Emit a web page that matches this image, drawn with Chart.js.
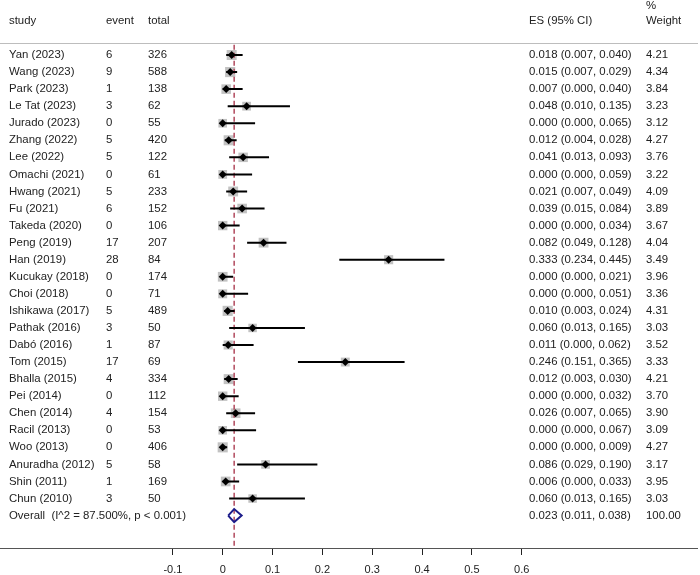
<!DOCTYPE html>
<html>
<head>
<meta charset="utf-8">
<script src="https://cdn.jsdelivr.net/npm/chart.js@4/dist/chart.umd.min.js"></script>
<style>
    html, body { margin: 0; padding: 0; background: #fff; }
    #forest { display: block; }
</style>
</head>
<body>
<canvas id="forest" width="700" height="575"></canvas>
<script>
// 研究数据
const studies = ['Yan (2023)', 'Wang (2023)', 'Park (2023)', 'Le Tat (2023)', 'Jurado (2023)', 'Zhang (2022)',
    'Lee (2022)', 'Omachi (2021)', 'Hwang (2021)', 'Fu (2021)', 'Takeda (2020)', 'Peng (2019)', 'Han (2019)',
    'Kucukay (2018)', 'Choi (2018)', 'Ishikawa (2017)', 'Pathak (2016)', 'Dabó (2016)', 'Tom (2015)',
    'Bhalla (2015)', 'Pei (2014)', 'Chen (2014)', 'Racil (2013)', 'Woo (2013)', 'Anuradha (2012)',
    'Shin (2011)', 'Chun (2010)'];
const events = [6, 9, 1, 3, 0, 5, 5, 0, 5, 6, 0, 17, 28, 0, 0, 5, 3, 1, 17, 4, 0, 4, 0, 0, 5, 1, 3];
const totals = [326, 588, 138, 62, 55, 420, 122, 61, 233, 152, 106, 207, 84, 174, 71, 489, 50, 87, 69, 334,
    112, 154, 53, 406, 58, 169, 50];
const es = [0.018, 0.015, 0.007, 0.048, 0.000, 0.012, 0.041, 0.000, 0.021, 0.039, 0.000, 0.082, 0.333, 0.000,
    0.000, 0.010, 0.060, 0.011, 0.246, 0.012, 0.000, 0.026, 0.000, 0.000, 0.086, 0.006, 0.060];
const ciLow = [0.007, 0.007, 0.000, 0.010, 0.000, 0.004, 0.013, 0.000, 0.007, 0.015, 0.000, 0.049, 0.234, 0.000,
    0.000, 0.003, 0.013, 0.000, 0.151, 0.003, 0.000, 0.007, 0.000, 0.000, 0.029, 0.000, 0.013];
const ciHigh = [0.040, 0.029, 0.040, 0.135, 0.065, 0.028, 0.093, 0.059, 0.049, 0.084, 0.034, 0.128, 0.445, 0.021,
    0.051, 0.024, 0.165, 0.062, 0.365, 0.030, 0.032, 0.065, 0.067, 0.009, 0.190, 0.033, 0.165];
const weights = [4.21, 4.34, 3.84, 3.23, 3.12, 4.27, 3.76, 3.22, 4.09, 3.89, 3.67, 4.04, 3.49, 3.96, 3.36, 4.31,
    3.03, 3.52, 3.33, 4.21, 3.70, 3.90, 3.09, 4.27, 3.17, 3.95, 3.03];

// 合并结果
const overallLabel = 'Overall  (I^2 = 87.500%, p < 0.001)';
const overallEs = 0.023;
const overallLow = 0.011;
const overallHigh = 0.038;
const overallWeight = 100.00;

// 坐标轴刻度
const xTicks = [-0.1, 0, 0.1, 0.2, 0.3, 0.4, 0.5, 0.6];
const xTickLabels = ['-0.1', '0', '0.1', '0.2', '0.3', '0.4', '0.5', '0.6'];

const overallRow = studies.length;
const fontFamily = '"Liberation Sans", Arial, sans-serif';
const textColor = '#222';

// 置信区间线段（用 NaN 断开）
function buildCiLines() {
    const pts = [];
    studies.forEach((s, i) => {
        pts.push({ x: ciLow[i], y: i });
        pts.push({ x: ciHigh[i], y: i });
        pts.push({ x: NaN, y: NaN });
    });
    return pts;
}

// 合并结果菱形
function buildOverallDiamond() {
    const h = 0.38;
    return [
        { x: overallLow, y: overallRow },
        { x: overallEs, y: overallRow - h },
        { x: overallHigh, y: overallRow },
        { x: overallEs, y: overallRow + h },
        { x: overallLow, y: overallRow }
    ];
}

// 表格文字插件
const tableTextPlugin = {
    id: 'tableText',
    afterDraw(chart) {
        const ctx = chart.ctx;
        const yScale = chart.scales.y;
        const rowY = r => yScale.getPixelForValue(r);

        ctx.save();
        ctx.font = '11.4px ' + fontFamily;
        ctx.fillStyle = textColor;
        ctx.textBaseline = 'middle';
        ctx.textAlign = 'left';

        // 表头
        ctx.fillText('study', 9, rowY(-2));
        ctx.fillText('event', 106, rowY(-2));
        ctx.fillText('total', 148, rowY(-2));
        ctx.fillText('ES (95% CI)', 529, rowY(-2));
        ctx.fillText('%', 646, rowY(-2.9));
        ctx.fillText('Weight', 646, rowY(-2));

        // 表头分隔线
        ctx.strokeStyle = '#bdbdbd';
        ctx.lineWidth = 1;
        ctx.beginPath();
        ctx.moveTo(0, Math.round(rowY(-0.7)) + 0.5);
        ctx.lineTo(698, Math.round(rowY(-0.7)) + 0.5);
        ctx.stroke();

        // 每个研究
        studies.forEach((s, i) => {
            const y = rowY(i);
            ctx.fillText(s, 9, y);
            ctx.fillText(String(events[i]), 106, y);
            ctx.fillText(String(totals[i]), 148, y);
            ctx.fillText(`${es[i].toFixed(3)} (${ciLow[i].toFixed(3)}, ${ciHigh[i].toFixed(3)})`, 529, y);
            ctx.fillText(weights[i].toFixed(2), 646, y);
        });

        // 合并行
        const yo = rowY(overallRow);
        ctx.fillText(overallLabel, 9, yo);
        ctx.fillText(`${overallEs.toFixed(3)} (${overallLow.toFixed(3)}, ${overallHigh.toFixed(3)})`, 529, yo);
        ctx.fillText(overallWeight.toFixed(2), 646, yo);

        ctx.restore();
    }
};

// 渲染森林图
function renderForestPlot() {
    const el = document.getElementById('forest');

    new Chart(el, {
        type: 'scatter',
        data: {
            datasets: [
                {
                    // 效应量点
                    data: studies.map((s, i) => ({ x: es[i], y: i })),
                    pointStyle: 'rectRot',
                    pointRadius: 4,
                    backgroundColor: '#000',
                    borderColor: '#000',
                    borderWidth: 0,
                    order: 0
                },
                {
                    // 置信区间
                    data: buildCiLines(),
                    showLine: true,
                    spanGaps: false,
                    borderColor: '#000',
                    borderWidth: 2,
                    pointRadius: 0,
                    order: 1
                },
                {
                    // 合并菱形
                    data: buildOverallDiamond(),
                    showLine: true,
                    borderColor: '#1c1c8a',
                    borderWidth: 2,
                    pointRadius: 0,
                    fill: false,
                    order: 1
                },
                {
                    // 合并效应参考线
                    data: [{ x: overallEs, y: -0.6 }, { x: overallEs, y: overallRow + 1.9 }],
                    showLine: true,
                    borderColor: '#b24a5e',
                    borderWidth: 1.5,
                    borderDash: [5, 3],
                    pointRadius: 0,
                    order: 2
                },
                {
                    // 权重方块
                    data: studies.map((s, i) => ({ x: es[i], y: i })),
                    pointStyle: 'rect',
                    pointRadius: weights.map(w => 3.45 * Math.sqrt(w)),
                    backgroundColor: '#c2c2c2',
                    borderWidth: 0,
                    order: 3
                }
            ]
        },
        options: {
            responsive: false,
            animation: false,
            devicePixelRatio: 1,
            layout: { autoPadding: false, padding: { left: 0, right: 3, top: 0, bottom: 0 } },
            plugins: {
                legend: { display: false },
                tooltip: { enabled: false }
            },
            scales: {
                x: {
                    type: 'linear',
                    min: -0.4469,
                    max: 0.9518,
                    afterBuildTicks: axis => {
                        axis.ticks = xTicks.map(v => ({ value: v }));
                    },
                    afterFit: axis => {
                        // 固定坐标轴高度，让轴线落在 548px
                        axis.height = 27;
                    },
                    ticks: {
                        autoSkip: false,
                        maxRotation: 0,
                        padding: 8,
                        color: textColor,
                        font: { family: fontFamily, size: 11 },
                        callback: (v) => {
                            const idx = xTicks.findIndex(t => Math.abs(t - v) < 1e-9);
                            return idx >= 0 ? xTickLabels[idx] : '';
                        }
                    },
                    grid: {
                        drawOnChartArea: false,
                        drawTicks: true,
                        tickLength: 7,
                        color: '#222',
                        lineWidth: 1
                    },
                    border: { display: true, color: '#555', width: 1 }
                },
                y: {
                    type: 'linear',
                    display: false,
                    reverse: true,
                    min: -3.224,
                    max: 28.9
                }
            }
        },
        plugins: [tableTextPlugin]
    });
}

renderForestPlot();
</script>
</body>
</html>
